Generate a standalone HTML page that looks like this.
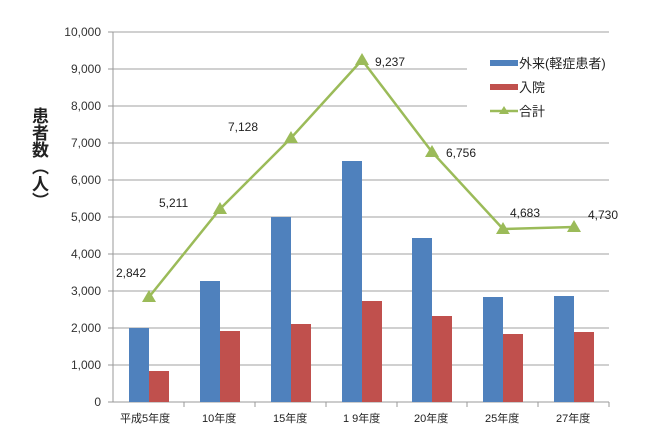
<!DOCTYPE html>
<html><head><meta charset="utf-8"><style>
html,body{margin:0;padding:0;background:#fff;width:657px;height:434px;overflow:hidden}
.yl{position:absolute;left:26px;top:107px;writing-mode:vertical-rl;font:bold 17px "Liberation Sans","Noto Sans CJK JP",sans-serif;letter-spacing:0px;color:#222}
</style></head><body>
<svg width="657" height="434" style="position:absolute;left:0;top:0" font-family="Liberation Sans, Noto Sans CJK JP, sans-serif">
<g stroke="#b5b5b5" stroke-width="1.3">
<line x1="113" y1="32" x2="609" y2="32"/>
<line x1="113" y1="69" x2="467" y2="69"/>
<line x1="113" y1="106" x2="467" y2="106"/>
<line x1="113" y1="143" x2="609" y2="143"/>
<line x1="113" y1="180" x2="609" y2="180"/>
<line x1="113" y1="217" x2="609" y2="217"/>
<line x1="113" y1="254" x2="609" y2="254"/>
<line x1="113" y1="291" x2="609" y2="291"/>
<line x1="113" y1="328" x2="609" y2="328"/>
<line x1="113" y1="365" x2="609" y2="365"/>
</g>
<g stroke="#999" stroke-width="1">
<line x1="113" y1="32" x2="113" y2="402"/>
<line x1="108" y1="402" x2="609" y2="402"/>
<line x1="108" y1="32" x2="113" y2="32"/><line x1="108" y1="69" x2="113" y2="69"/><line x1="108" y1="106" x2="113" y2="106"/><line x1="108" y1="143" x2="113" y2="143"/><line x1="108" y1="180" x2="113" y2="180"/><line x1="108" y1="217" x2="113" y2="217"/><line x1="108" y1="254" x2="113" y2="254"/><line x1="108" y1="291" x2="113" y2="291"/><line x1="108" y1="328" x2="113" y2="328"/><line x1="108" y1="365" x2="113" y2="365"/>
<line x1="184" y1="402" x2="184" y2="407"/><line x1="255" y1="402" x2="255" y2="407"/><line x1="326" y1="402" x2="326" y2="407"/><line x1="397" y1="402" x2="397" y2="407"/><line x1="467" y1="402" x2="467" y2="407"/><line x1="538" y1="402" x2="538" y2="407"/><line x1="609" y1="402" x2="609" y2="407"/>
</g>
<g font-size="12" fill="#333" text-anchor="end">
<text x="101" y="36">10,000</text><text x="101" y="73">9,000</text><text x="101" y="110">8,000</text><text x="101" y="147">7,000</text><text x="101" y="184">6,000</text><text x="101" y="221">5,000</text><text x="101" y="258">4,000</text><text x="101" y="295">3,000</text><text x="101" y="332">2,000</text><text x="101" y="369">1,000</text><text x="101" y="406">0</text>
</g>
<g fill="#4f81bd">
<rect x="129" y="328" width="20" height="74"/>
<rect x="200" y="281" width="20" height="121"/>
<rect x="271" y="217" width="20" height="185"/>
<rect x="342" y="161" width="20" height="241"/>
<rect x="412" y="238" width="20" height="164"/>
<rect x="483" y="297" width="20" height="105"/>
<rect x="554" y="296" width="20" height="106"/>
</g>
<g fill="#c0504d">
<rect x="149" y="371" width="20" height="31"/>
<rect x="220" y="331" width="20" height="71"/>
<rect x="291" y="324" width="20" height="78"/>
<rect x="362" y="301" width="20" height="101"/>
<rect x="432" y="316" width="20" height="86"/>
<rect x="503" y="334" width="20" height="68"/>
<rect x="574" y="332" width="20" height="70"/>
</g>
<polyline fill="none" stroke="#9bbb59" stroke-width="2.5" points="149,297 220,209 291,138 362,60 432,152 503,229 574,227"/>
<g fill="#9bbb59">
<polygon points="149,290 142,302 156,302"/><polygon points="220,202 213,214 227,214"/><polygon points="291,131 284,143 298,143"/><polygon points="362,53 355,65 369,65"/><polygon points="432,145 425,157 439,157"/><polygon points="503,222 496,234 510,234"/><polygon points="574,220 567,232 581,232"/>
</g>
<g font-size="12" fill="#222">
<text x="116" y="277">2,842</text><text x="159" y="207">5,211</text><text x="228" y="131">7,128</text><text x="375" y="66">9,237</text><text x="446" y="157">6,756</text><text x="510" y="217">4,683</text><text x="588" y="219">4,730</text>
</g>
<g font-size="12" fill="#222" font-family="Liberation Sans, Noto Sans CJK JP, sans-serif">
<text x="120" y="422" font-size="11">平成5年度</text><text x="202" y="422" font-size="11">10年度</text><text x="273" y="422" font-size="11">15年度</text><text x="343" y="422" font-size="11">1 9年度</text><text x="414" y="422" font-size="11">20年度</text><text x="485" y="422" font-size="11">25年度</text><text x="556" y="422" font-size="11">27年度</text>
</g>
<rect x="490" y="60" width="28" height="6" fill="#4f81bd"/>
<rect x="490" y="84" width="28" height="6" fill="#c0504d"/>
<line x1="490" y1="111" x2="518" y2="111" stroke="#9bbb59" stroke-width="2.5"/>
<polygon points="504,106 499,114 509,114" fill="#9bbb59"/>
<g font-size="13" fill="#222"><text x="519" y="68">外来(軽症患者)</text><text x="519" y="92">入院</text><text x="519" y="116">合計</text></g>
</svg>
<div class="yl">患者数（人）</div>
</body></html>
